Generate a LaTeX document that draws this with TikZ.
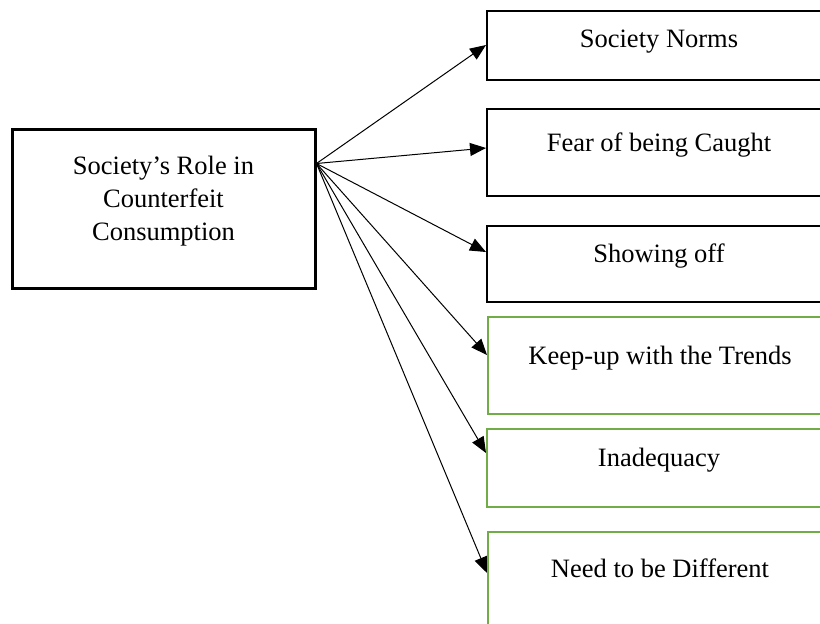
\documentclass[tikz,border=0pt]{standalone}
\usepackage{fontspec}
\setmainfont{Liberation Serif}
\usetikzlibrary{arrows.meta}
\definecolor{boxgreen}{HTML}{70AD47}
\tikzset{
  x=1pt, y=-1pt,
  causebox/.style={draw=black, line width=2pt, anchor=north west, inner sep=0pt,
    minimum width=344pt, font=\fontsize{26.5}{33}\selectfont},
  greenbox/.style={causebox, draw=boxgreen},
  mainbox/.style={draw=black, line width=3pt, inner sep=0pt,
    minimum width=303pt, minimum height=159pt},
  maintext/.style={align=center, inner sep=0pt, font=\fontsize{26.5}{33}\selectfont},
  arr/.style={line width=1pt, -{Triangle[length=16pt,width=13pt]}}
}
\begin{document}
\begin{tikzpicture}
\useasboundingbox (0,0) rectangle (820,624);
\clip (0,0) rectangle (820,624);
% main box
\node[mainbox] (L) at (163.5,208.5) {};
\node[maintext] (Ltxt) at (163.5,201) {Society’s Role in\\Counterfeit\\Consumption};
% right boxes
\node[causebox, text height=36pt, text depth=33pt] (b1) at (486,10) {Society Norms};
\node[causebox, text height=42pt, text depth=45pt] (b2) at (486,108) {Fear of being Caught};
\node[causebox, text height=36pt, text depth=40pt] (b3) at (486,225) {Showing off};
\node[greenbox, text height=47pt, text depth=50pt] (b4) at (487,316) {Keep-up with the Trends};
\node[greenbox, text height=37pt, text depth=41pt] (b5) at (486,428) {Inadequacy};
\node[greenbox, text height=45pt, text depth=64pt] (b6) at (487,531) {Need to be Different};
% connector points
\coordinate (s) at ([yshift=-36pt]L.north east);
\coordinate (e1) at ([yshift=-35pt]b1.north west);
\coordinate (e2) at ([yshift=-40pt]b2.north west);
\coordinate (e3) at ([yshift=-27pt]b3.north west);
\coordinate (e4) at ([yshift=-39pt]b4.north west);
\coordinate (e5) at ([yshift=-25pt]b5.north west);
\coordinate (e6) at ([yshift=-42pt]b6.north west);
\foreach \e in {e1,e2,e3,e4,e5,e6}
  \draw[arr] (s) -- (\e);
\end{tikzpicture}
\end{document}
